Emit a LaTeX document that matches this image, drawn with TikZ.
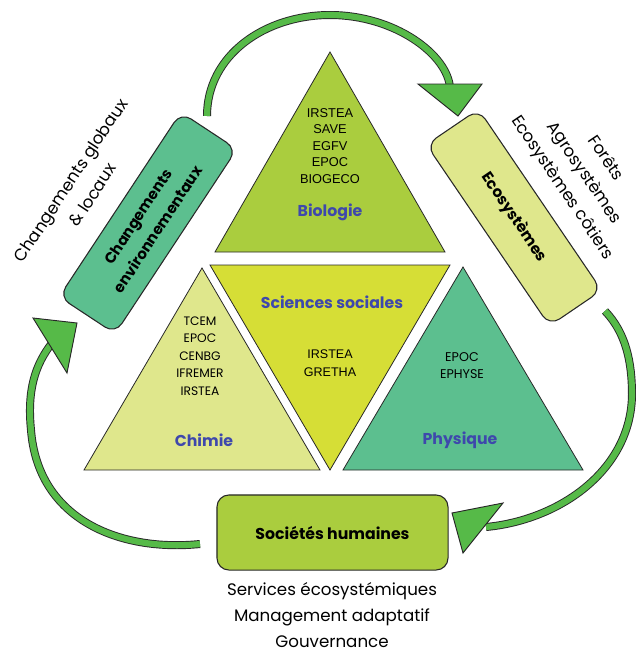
\documentclass[tikz,border=0pt]{standalone}
\usepackage{fontspec}
\setmainfont{Poppins}
\newfontfamily\arialfont{Liberation Sans}
\definecolor{bioG}{RGB}{170,205,62}
\definecolor{socY}{RGB}{214,222,54}
\definecolor{chimY}{RGB}{223,231,140}
\definecolor{phyG}{RGB}{92,191,143}
\definecolor{arrG}{RGB}{86,186,72}
\definecolor{lblB}{RGB}{62,72,172}
\definecolor{edge}{RGB}{40,40,40}
\begin{document}
\begin{tikzpicture}[x=0.75pt,y=-0.75pt,
  tri/.style={draw=edge, line width=0.6pt, line join=miter},
  rbox/.style={draw=edge, line width=0.8pt, rounded corners=9pt, inner sep=0pt, align=center},
  shaft/.style={draw=edge, line width=0.7pt, double=arrG, double distance=4.6pt},
  head/.style={draw=edge, fill=arrG, line width=0.7pt, line join=miter},
  disc/.style={text=lblB, font=\bfseries\fontsize{11.8}{14}\selectfont},
  lab/.style={align=center, inner sep=0pt},
  outer/.style={align=center, inner sep=0pt, font=\fontsize{12.5}{19.6}\selectfont}]
\useasboundingbox (0,0) rectangle (636,651);

% the four discipline triangles
\fill[bioG]  (330,52) -- (445,252) -- (215,252) -- cycle;
\draw[tri]   (330,52) -- (445,252) -- (215,252) -- cycle;
\fill[socY]  (210,265) -- (450,265) -- (330,470) -- cycle;
\draw[tri]   (210,265) -- (450,265) -- (330,470) -- cycle;
\fill[chimY] (202,268) -- (320,470) -- (84,470) -- cycle;
\draw[tri]   (202,268) -- (320,470) -- (84,470) -- cycle;
\fill[phyG]  (463,267) -- (583,470) -- (343,470) -- cycle;
\draw[tri]   (463,267) -- (583,470) -- (343,470) -- cycle;

% discipline names and laboratories
\node[disc] (bio) at (330,212) {Biologie};
\node[lab, font=\arialfont\fontsize{9.6}{12.4}\selectfont] (bio-labs) at (330,146)
  {IRSTEA\\SAVE\\EGFV\\EPOC\\BIOGECO};
\node[disc] (socsci) at (332,302) {Sciences sociales};
\node[lab, font=\arialfont\fontsize{9.4}{13.5}\selectfont] (socsci-labs) at (330,363)
  {IRSTEA\\GRETHA};
\node[disc] (chim) at (204,440) {Chimie};
\node[lab, font=\fontsize{9.2}{13.1}\selectfont] (chim-labs) at (200,356)
  {TCEM\\EPOC\\CENBG\\IFREMER\\IRSTEA};
\node[disc] (phys) at (460,440) {Physique};
\node[lab, font=\fontsize{9.5}{12.8}\selectfont] (phys-labs) at (462,365.5)
  {EPOC\\EPHYSE};

% the three boxes of the cycle
\node[rbox, fill=phyG, rotate=56.6, minimum width=165.8pt, minimum height=50.3pt,
      font=\bfseries\fontsize{11.2}{17.5}\selectfont] (env) at (148,223)
  {Changements\\environnementaux};
\node[rbox, fill=chimY, rotate=-55.8, minimum width=164.3pt, minimum height=47.3pt,
      font=\bfseries\fontsize{11.5}{13}\selectfont] (eco) at (514,217.5)
  {Ecosystèmes};
\node[rbox, fill=bioG, minimum width=173.3pt, minimum height=56.3pt,
      font=\bfseries\fontsize{11.8}{14}\selectfont] (soc) at (332.5,532.5)
  {Sociétés humaines};

% captions around the boxes
\node[outer, rotate=56.6] (env-cap) at (81.5,187.5) {Changements globaux\\\& locaux};
\node[outer, rotate=-56] (eco-cap) at (583.5,173.3) {Forêts\\Agrosystèmes\\Ecosystèmes côtiers};
\node[outer] (soc-cap) at (332,615) {Services écosystémiques\\Management adaptatif\\Gouvernance};

% curved arrows linking the boxes
\coordinate (a1s) at (207,116);
\coordinate (a1e) at (450,88);
\coordinate (a2s) at (605,311);
\coordinate (a2e) at (486,527);
\coordinate (a3s) at (200,544);
\coordinate (a3e) at (52,343);

\draw[shaft] (a1s) .. controls (207,55) and (265,15) .. (330,15)
             .. controls (395,15) and (448,55) .. (a1e);
\draw[head] (418,84) -- (482,84) -- (458,116) -- cycle;

\draw[shaft] (a2s) .. controls (626,333) and (632,362) .. (632,395)
             .. controls (631,470) and (560,520) .. (a2e);
\draw[head] (452,513) -- (503,503) -- (463,553) -- cycle;

\draw[shaft] (a3s) .. controls (120,552) and (38,520) .. (31,430)
             .. controls (27,390) and (35,365) .. (a3e);
\draw[head] (77,323) -- (33,318) -- (67,373) -- cycle;
\end{tikzpicture}
\end{document}
